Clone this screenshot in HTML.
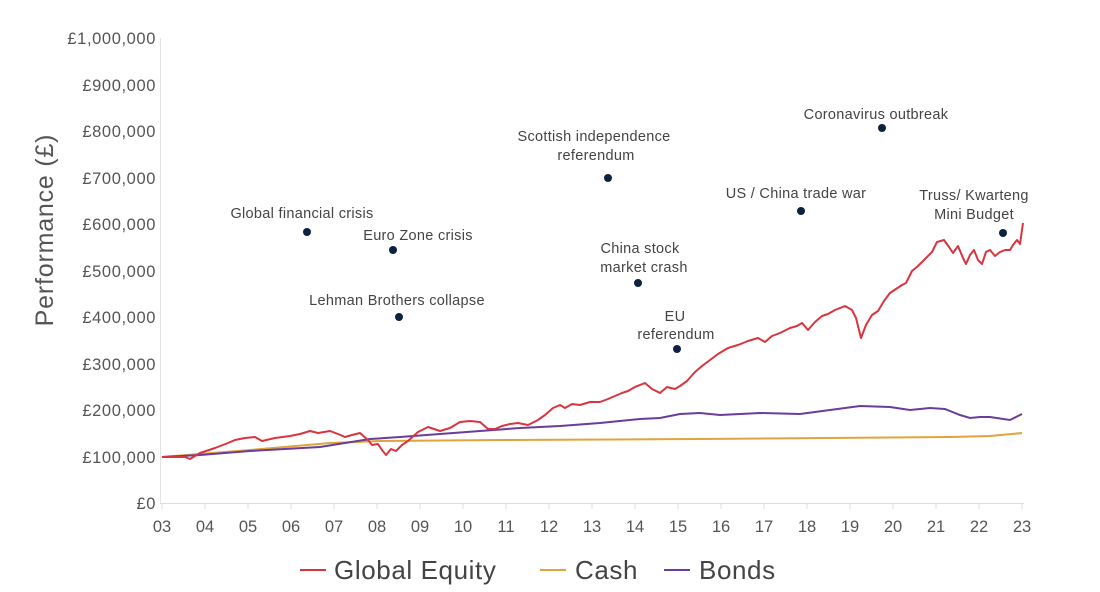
<!DOCTYPE html>
<html><head><meta charset="utf-8"><style>
html,body{margin:0;padding:0;background:#fff;}
svg{display:block;font-family:"Liberation Sans",sans-serif;}
</style></head><body>
<svg width="1100" height="592" viewBox="0 0 1100 592" xmlns="http://www.w3.org/2000/svg">
<g fill="#555" font-size="16.5" text-anchor="end" letter-spacing="0.6">
<text x="156" y="44">£1,000,000</text>
<text x="156" y="91">£900,000</text>
<text x="156" y="137">£800,000</text>
<text x="156" y="184">£700,000</text>
<text x="156" y="230">£600,000</text>
<text x="156" y="277">£500,000</text>
<text x="156" y="323">£400,000</text>
<text x="156" y="370">£300,000</text>
<text x="156" y="416">£200,000</text>
<text x="156" y="463">£100,000</text>
<text x="156" y="509">£0</text>
</g>
<text transform="translate(53,230) rotate(-90)" text-anchor="middle" font-size="25" letter-spacing="0.8" fill="#555">Performance (£)</text>
<line x1="160.5" y1="38" x2="160.5" y2="503" stroke="#e3e3e3"/>
<line x1="160" y1="503.5" x2="1024" y2="503.5" stroke="#ddd"/>
<g stroke="#ddd">
<line x1="162" y1="503" x2="162" y2="509"/><line x1="205" y1="503" x2="205" y2="509"/><line x1="248" y1="503" x2="248" y2="509"/><line x1="291" y1="503" x2="291" y2="509"/><line x1="334" y1="503" x2="334" y2="509"/><line x1="377" y1="503" x2="377" y2="509"/><line x1="420" y1="503" x2="420" y2="509"/><line x1="463" y1="503" x2="463" y2="509"/><line x1="506" y1="503" x2="506" y2="509"/><line x1="549" y1="503" x2="549" y2="509"/><line x1="592" y1="503" x2="592" y2="509"/><line x1="635" y1="503" x2="635" y2="509"/><line x1="678" y1="503" x2="678" y2="509"/><line x1="721" y1="503" x2="721" y2="509"/><line x1="764" y1="503" x2="764" y2="509"/><line x1="807" y1="503" x2="807" y2="509"/><line x1="850" y1="503" x2="850" y2="509"/><line x1="893" y1="503" x2="893" y2="509"/><line x1="936" y1="503" x2="936" y2="509"/><line x1="979" y1="503" x2="979" y2="509"/><line x1="1022" y1="503" x2="1022" y2="509"/>
</g>
<g fill="#555" font-size="16.5" text-anchor="middle">
<text x="162" y="532">03</text><text x="205" y="532">04</text><text x="248" y="532">05</text><text x="291" y="532">06</text><text x="334" y="532">07</text><text x="377" y="532">08</text><text x="420" y="532">09</text><text x="463" y="532">10</text><text x="506" y="532">11</text><text x="549" y="532">12</text><text x="592" y="532">13</text><text x="635" y="532">14</text><text x="678" y="532">15</text><text x="721" y="532">16</text><text x="764" y="532">17</text><text x="807" y="532">18</text><text x="850" y="532">19</text><text x="893" y="532">20</text><text x="936" y="532">21</text><text x="979" y="532">22</text><text x="1022" y="532">23</text>
</g>
<polyline fill="none" stroke="#e0a43a" stroke-width="2" points="162,457 250,450 330,443 380,441 500,440 700,439 950,437 990,436 1022,433"/>
<polyline fill="none" stroke="#6a3d9a" stroke-width="2" points="162,457 200,455 250,451 320,447 370,439 400,437 440,434 480,431 520,428 560,426 600,423 640,419 660,418 680,414 700,413 720,415 760,413 800,414 830,410 860,406 890,407 910,410 930,408 945,409 960,415 970,418 980,417 990,417 1010,420 1022,414"/>
<polyline fill="none" stroke="#d8353e" stroke-width="2" stroke-linejoin="round" points="162,457 185,457 190,459 200,453 215,448 228,443 235,440 245,438 255,437 262,441 275,438 290,436 300,434 310,431 318,433 330,431 338,434 345,437 352,435 360,433 368,440 372,445 378,444 382,450 386,455 391,449 396,451 402,445 408,441 418,432 428,427 440,431 450,428 460,422 470,421 480,422 488,429 495,429 502,426 510,424 518,423 528,425 538,420 545,415 553,408 560,405 565,408 572,404 580,405 590,402 600,402 608,399 615,396 622,393 628,391 635,387 645,383 652,389 660,393 667,387 675,389 680,386 687,381 695,372 702,366 710,360 718,354 728,348 738,345 748,341 758,338 765,342 772,336 780,333 790,328 797,326 802,323 808,330 815,322 822,316 828,314 835,310 845,306 852,310 856,318 861,338 866,325 872,315 878,311 884,301 890,293 896,289 902,285 906,283 912,271 918,266 925,259 932,252 937,242 944,240 949,247 953,253 958,246 963,258 966,264 970,255 974,250 978,260 982,264 986,252 990,250 995,256 1000,252 1005,250 1010,250 1013,245 1017,240 1020,244 1023,223"/>
<g fill="#0d2240">
<circle cx="307" cy="232" r="4"/><circle cx="393" cy="250" r="4"/><circle cx="399" cy="317" r="4"/><circle cx="608" cy="178" r="4"/><circle cx="638" cy="283" r="4"/><circle cx="677" cy="349" r="4"/><circle cx="801" cy="211" r="4"/><circle cx="882" cy="128" r="4"/><circle cx="1003" cy="233" r="4"/>
</g>
<g fill="#444" font-size="14.5" text-anchor="middle" letter-spacing="0.3">
<text x="302" y="218">Global financial crisis</text>
<text x="418" y="240">Euro Zone crisis</text>
<text x="397" y="305">Lehman Brothers collapse</text>
<text x="594" y="141">Scottish  independence</text>
<text x="596" y="160">referendum</text>
<text x="640" y="253">China stock</text>
<text x="644" y="272">market crash</text>
<text x="675" y="321">EU</text>
<text x="676" y="339">referendum</text>
<text x="796" y="198">US / China trade war</text>
<text x="876" y="119">Coronavirus outbreak</text>
<text x="974" y="200">Truss/ Kwarteng</text>
<text x="974" y="219">Mini Budget</text>
</g>
<g font-size="26" fill="#444" letter-spacing="0.6">
<line x1="300" y1="570" x2="326" y2="570" stroke="#d8353e" stroke-width="2"/>
<text x="334" y="579">Global Equity</text>
<line x1="540" y1="570" x2="566" y2="570" stroke="#e0a43a" stroke-width="2"/>
<text x="575" y="579">Cash</text>
<line x1="664" y1="570" x2="690" y2="570" stroke="#6a3d9a" stroke-width="2"/>
<text x="699" y="579">Bonds</text>
</g>
</svg>
</body></html>
